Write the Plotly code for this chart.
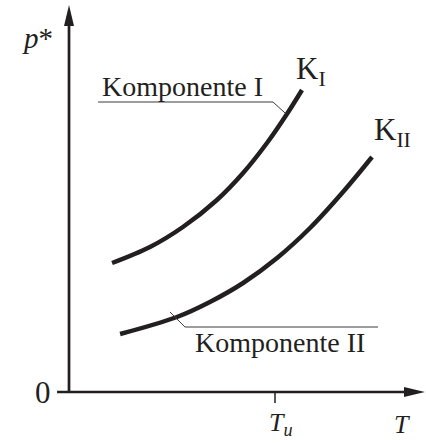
import plotly.graph_objects as go

# Vapour pressure curves p*(T) of two components (qualitative sketch, Tu = 1)
T_I = [0.209, 0.393, 0.553, 0.718, 0.845, 0.961, 1.058, 1.131]
p_I = [1.29, 1.45, 1.65, 1.92, 2.19, 2.49, 2.78, 3.02]

T_II = [0.248, 0.524, 0.684, 0.845, 1.010, 1.170, 1.330, 1.471]
p_II = [0.58, 0.75, 0.90, 1.09, 1.34, 1.64, 2.00, 2.35]

T_u = 1.0
x_ticks = [T_u]
x_tick_labels = ["<i>T</i><sub><i>u</i></sub>"]

INK = "#231f20"
FONT = "'Liberation Serif', 'Times New Roman', serif"

fig = go.Figure()
for T, p in ((T_I, p_I), (T_II, p_II)):
    fig.add_trace(go.Scatter(
        x=T, y=p, mode="lines",
        line=dict(color=INK, width=4.5, shape="spline", smoothing=1.0),
        hoverinfo="skip", showlegend=False,
    ))

x_min, x_max = -0.335, 1.733
y_min, y_max = -0.51, 3.92
x_tip, y_tip = 1.728, 3.87

shapes = [
    # axes with arrow heads
    dict(type="line", x0=-0.058, y0=0, x1=x_tip - 0.05, y1=0,
         line=dict(color=INK, width=2.7)),
    dict(type="line", x0=0, y0=0, x1=0, y1=y_tip - 0.1,
         line=dict(color=INK, width=2.7)),
    dict(type="path", xsizemode="pixel", ysizemode="pixel",
         xanchor=x_tip, yanchor=0, path="M0,0 L-21,5 L-21,-5 Z",
         fillcolor=INK, line=dict(width=0)),
    dict(type="path", xsizemode="pixel", ysizemode="pixel",
         xanchor=0, yanchor=y_tip, path="M0,0 L-5,-21 L5,-21 Z",
         fillcolor=INK, line=dict(width=0)),
]
# tick marks below the T axis
for xt in x_ticks:
    shapes.append(dict(type="line", xsizemode="scaled", x0=xt, x1=xt,
                       ysizemode="pixel", yanchor=0, y0=0, y1=-11,
                       line=dict(color=INK, width=1.5)))

# leader lines for the component labels
LEAD = dict(color="#3a3a3a", width=1)
shapes += [
    dict(type="line", x0=0.141, y0=2.90, x1=0.990, y1=2.90, line=LEAD),
    dict(type="line", x0=0.990, y0=2.90, x1=1.049, y1=2.79, line=LEAD),
    dict(type="line", x0=0.490, y0=0.80, x1=0.563, y1=0.65, line=LEAD),
    dict(type="line", x0=0.563, y0=0.65, x1=1.500, y1=0.65, line=LEAD),
]

def label(text, x, y, size, xanchor="center", yanchor="middle"):
    return dict(text=text, x=x, y=y, xref="x", yref="y", showarrow=False,
                xanchor=xanchor, yanchor=yanchor,
                font=dict(family=FONT, size=size, color=INK))

annotations = [
    label("<i>p</i>*", -0.155, 3.54, 29),
    label("0", -0.124, 0.0, 31),
    label("<i>T</i>", 1.617, -0.32, 26),
    label("K<sub>I</sub>", 1.175, 3.21, 31),
    label("K<sub>II</sub>", 1.568, 2.60, 31),
    label("Komponente I", 0.553, 3.06, 28),
    label("Komponente II", 1.024, 0.50, 28),
]
for xt, txt in zip(x_ticks, x_tick_labels):
    annotations.append(label(txt, xt + 0.029, -0.32, 26))

fig.update_layout(
    width=426, height=443,
    margin=dict(l=0, r=0, t=0, b=0),
    paper_bgcolor="white", plot_bgcolor="white",
    font=dict(family=FONT, color=INK),
    xaxis=dict(range=[x_min, x_max], visible=False, fixedrange=True),
    yaxis=dict(range=[y_min, y_max], visible=False, fixedrange=True),
    shapes=shapes, annotations=annotations,
)

fig.write_html("out.html")
